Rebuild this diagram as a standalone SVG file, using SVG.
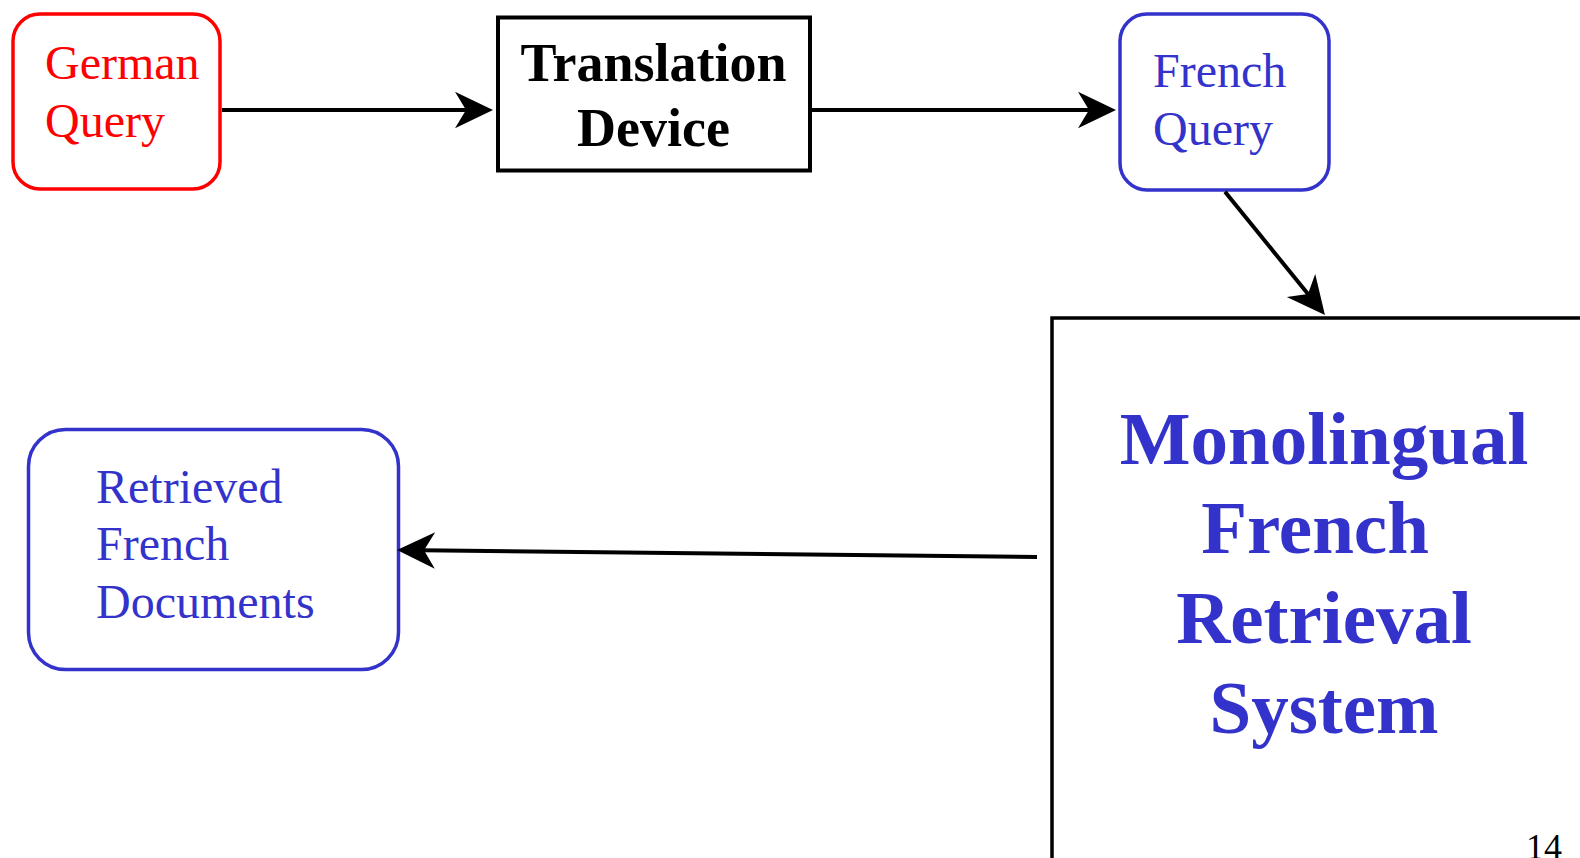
<svg xmlns="http://www.w3.org/2000/svg" width="1580" height="858" viewBox="0 0 1580 858">
  <style>
    .serif { font-family: "Liberation Serif", "Times New Roman", serif; }
    .red { fill: #ff0000; }
    .blue { fill: #3333cc; }
    .box-red { fill: #ffffff; stroke: #ff0000; stroke-width: 3.5; }
    .box-blue { fill: #ffffff; stroke: #3333cc; stroke-width: 3.5; }
    .box-black { fill: #ffffff; stroke: #000000; stroke-width: 4; }
    .edge { fill: none; stroke: #000000; stroke-width: 4; marker-end: url(#arrow); }
  </style>
  <defs>
    <!-- barbed arrowhead; tip sits 25px beyond the line's end -->
    <marker id="arrow" markerUnits="userSpaceOnUse" viewBox="-40 -20 42 40" markerWidth="42" markerHeight="40" refX="-25" refY="0" orient="auto" overflow="visible">
      <path d="M0,0 L-38,-18.3 L-27,0 L-38,18.3 Z" fill="#000000"/>
    </marker>
  </defs>
  <rect width="1580" height="858" fill="#ffffff"/>

  <g id="german-query">
    <rect class="box-red" x="13" y="14" width="207" height="175" rx="27" ry="27"/>
    <text class="serif red" x="45" y="79" font-size="48">German</text>
    <text class="serif red" x="45" y="137" font-size="48">Query</text>
  </g>

  <g id="translation-device">
    <rect class="box-black" x="498" y="17.5" width="312" height="153"/>
    <text class="serif" x="653.5" y="81" font-size="54" font-weight="bold" text-anchor="middle">Translation</text>
    <text class="serif" x="653.5" y="146" font-size="54" font-weight="bold" text-anchor="middle">Device</text>
  </g>

  <g id="french-query">
    <rect class="box-blue" x="1120" y="14" width="209" height="176" rx="27" ry="27"/>
    <text class="serif blue" x="1153" y="87" font-size="48">French</text>
    <text class="serif blue" x="1153" y="145" font-size="48">Query</text>
  </g>

  <g id="retrieval-system">
    <rect x="1052" y="318" width="600" height="600" fill="#ffffff" stroke="#000000" stroke-width="3.5"/>
    <text class="serif blue" x="1324" y="464" font-size="75" font-weight="bold" text-anchor="middle">Monolingual</text>
    <text class="serif blue" x="1315" y="553" font-size="75" font-weight="bold" text-anchor="middle">French</text>
    <text class="serif blue" x="1324" y="643" font-size="75" font-weight="bold" text-anchor="middle">Retrieval</text>
    <text class="serif blue" x="1324" y="733" font-size="75" font-weight="bold" text-anchor="middle">System</text>
  </g>

  <g id="retrieved-documents">
    <rect class="box-blue" x="28.5" y="429.5" width="370" height="240" rx="37" ry="37"/>
    <text class="serif blue" x="96" y="503" font-size="48">Retrieved</text>
    <text class="serif blue" x="96" y="560" font-size="48">French</text>
    <text class="serif blue" x="96" y="618" font-size="48">Documents</text>
  </g>

  <g id="connectors">
    <line class="edge" x1="222" y1="110" x2="468" y2="110"/>
    <line class="edge" x1="812" y1="110" x2="1091" y2="110"/>
    <line class="edge" x1="1225" y1="191.7" x2="1309.2" y2="295.6"/>
    <line class="edge" x1="1037" y1="557" x2="422" y2="550.3"/>
  </g>

  <text class="serif" x="1526" y="859" font-size="36">14</text>
</svg>
